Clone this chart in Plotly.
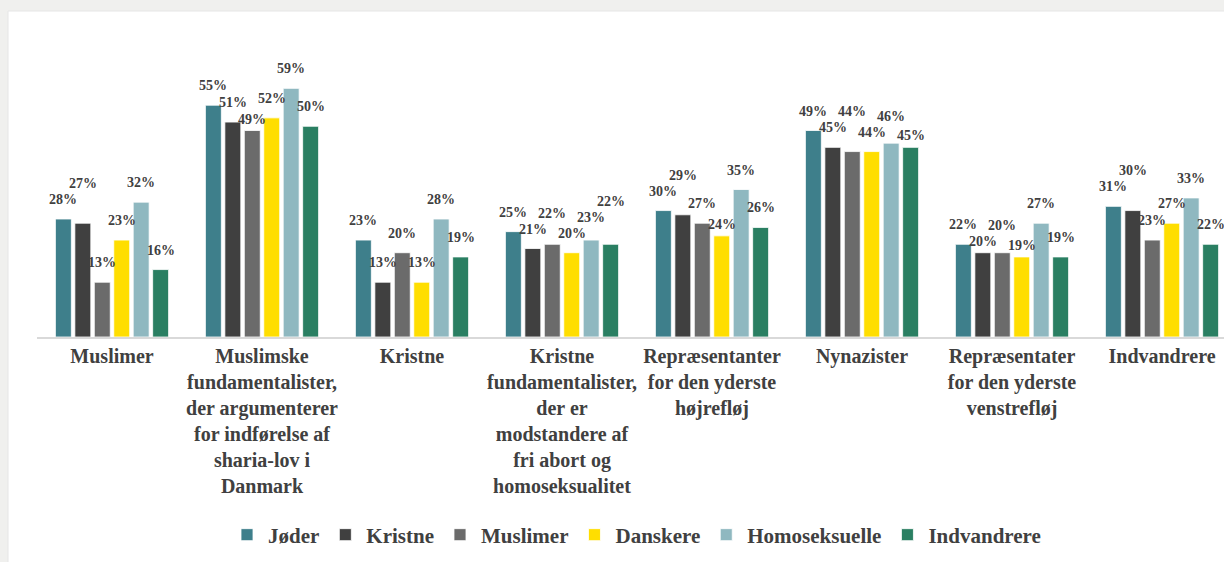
import plotly.graph_objects as go

categories = [
    "Muslimer",
    "Muslimske<br>fundamentalister,<br>der argumenterer<br>for indførelse af<br>sharia-lov i<br>Danmark",
    "Kristne",
    "Kristne<br>fundamentalister,<br>der er<br>modstandere af<br>fri abort og<br>homoseksualitet",
    "Repræsentanter<br>for den yderste<br>højrefløj",
    "Nynazister",
    "Repræsentater<br>for den yderste<br>venstrefløj",
    "Indvandrere",
]

series_names = ["Jøder", "Kristne", "Muslimer", "Danskere", "Homoseksuelle", "Indvandrere"]

joder = [0.28, 0.55, 0.23, 0.25, 0.30, 0.49, 0.22, 0.31]
kristne = [0.27, 0.51, 0.13, 0.21, 0.29, 0.45, 0.20, 0.30]
muslimer = [0.13, 0.49, 0.20, 0.22, 0.27, 0.44, 0.20, 0.23]
danskere = [0.23, 0.52, 0.13, 0.20, 0.24, 0.44, 0.19, 0.27]
homoseksuelle = [0.32, 0.59, 0.28, 0.23, 0.35, 0.46, 0.27, 0.33]
indvandrere = [0.16, 0.50, 0.19, 0.22, 0.26, 0.45, 0.19, 0.22]

series_values = [joder, kristne, muslimer, danskere, homoseksuelle, indvandrere]
colors = ["#3e7f8b", "#404040", "#6b6b6b", "#ffde00", "#8fb8c0", "#2a7f62"]

FONT = "Liberation Serif"
TXT = "#404040"

W, H = 1224, 562
L, R, T, B = 37, 0, 42, 225
plot_w = W - L - R
plot_h = H - T - B
Y_MAX = 0.70
px_per_unit = plot_h / Y_MAX
cat_px = 150.0
BARGAP = 0.222
n = len(series_names)
slot_px = cat_px * (1 - BARGAP) / n

# ---- data label placement with simple collision avoidance (Excel-like staggering)
LBL_SIZE = 14
LBL_W = 29.0   # approx width of "55%" label in px
LBL_H = 16.0   # approx height of label box in px
GAP = 10.0


def overlaps(a, b):
    return abs(a[0] - b[0]) < LBL_W and abs(a[1] - b[1]) < LBL_H


annotations = []
for j, cat in enumerate(categories):
    placed = []
    for i in range(n):
        v = series_values[i][j]
        top = v * px_per_unit
        cx = (i - (n - 1) / 2) * slot_px
        prev = placed[-1] if placed else None
        cands = [(0.0, top + GAP), (0.0, top + 2.0), (9.0, top + GAP)]
        if prev is not None:
            cands.append((0.0, max(prev[1] + LBL_H, top + 2.0)))
        chosen = cands[-1]
        for dx, b in cands:
            box = (cx + dx, b)
            if not any(overlaps(box, p) for p in placed):
                chosen = (dx, b)
                break
        placed.append((cx + chosen[0], chosen[1]))
        annotations.append(dict(
            x=cat, y=v, xref="x", yref="y",
            text=f"{round(v * 100)}%",
            showarrow=False,
            xanchor="center", yanchor="bottom",
            xshift=cx + chosen[0],
            yshift=chosen[1] - top,
            font=dict(family=FONT, size=LBL_SIZE, color=TXT, weight="bold"),
        ))

fig = go.Figure()
for name, vals, col in zip(series_names, series_values, colors):
    fig.add_trace(go.Bar(
        name=name,
        x=categories,
        y=vals,
        marker=dict(color=col, line=dict(color="#ffffff", width=0.8)),
        hoverinfo="x+y+name",
    ))

# white card over grey page background
fig.add_shape(
    type="rect", xref="paper", yref="paper", layer="below",
    x0=(8 - L) / plot_w, x1=1.05,
    y0=-(B + 20) / plot_h, y1=(H - 11 - B) / plot_h,
    fillcolor="#ffffff", line=dict(color="#e6e6e6", width=1),
)

fig.update_layout(
    width=W, height=H,
    margin=dict(l=L, r=R, t=T, b=B),
    paper_bgcolor="#f0f0ee",
    plot_bgcolor="rgba(0,0,0,0)",
    barmode="group",
    bargap=BARGAP,
    bargroupgap=0.18,
    font=dict(family=FONT, color=TXT),
    annotations=annotations,
    showlegend=True,
    legend=dict(
        orientation="h",
        x=(636 - L) / plot_w, xanchor="center",
        y=-(535 - (T + plot_h)) / plot_h, yanchor="middle",
        font=dict(family=FONT, size=21, color=TXT, weight="bold"),
        itemwidth=32,
        bgcolor="rgba(0,0,0,0)",
    ),
    xaxis=dict(
        range=[-0.5, -0.5 + plot_w / cat_px],
        showline=True, linecolor="#d9d9d9", linewidth=2,
        ticks="", showgrid=False,
        tickfont=dict(family=FONT, size=20, color=TXT, weight="bold"),
        tickangle=0,
    ),
    yaxis=dict(
        range=[0, Y_MAX],
        visible=False, showgrid=False, zeroline=False,
    ),
)

fig.write_html(
    "out.html",
    config={"displayModeBar": False},
    post_script="document.body.style.margin='0';document.body.style.background='#f0f0ee';",
)
